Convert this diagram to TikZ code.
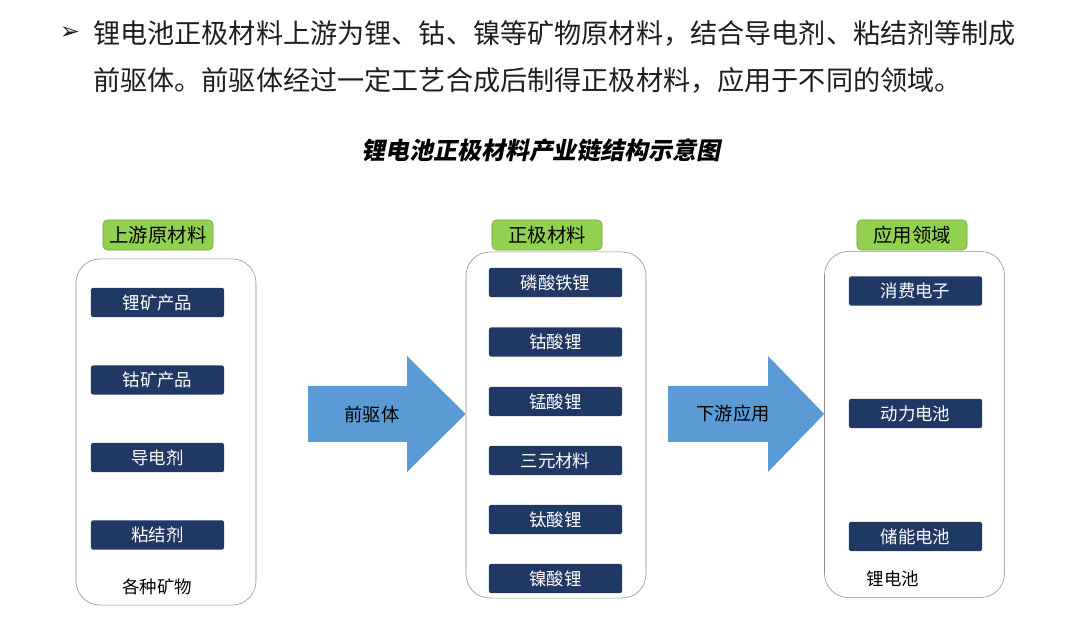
\documentclass[tikz,border=0pt]{standalone}
\usepackage{fontspec}
\setmainfont{Noto Sans CJK SC}
\newfontfamily\symfont{DejaVu Sans}
\newfontfamily\titlefont[FakeSlant=0.2]{Noto Sans CJK SC}
\usepackage{tikz}
\usetikzlibrary{positioning,calc}
\usepackage{xcolor}
\definecolor{itemcolor}{RGB}{31,56,100}
\definecolor{labelcolor}{RGB}{146,208,80}
\definecolor{arrowcolor}{RGB}{91,155,213}
\definecolor{textcolor}{RGB}{30,30,30}

\begin{document}
\begin{tikzpicture}[x=0.025cm, y=-0.025cm,
    intro/.style={anchor=west, inner sep=0, text=textcolor, font=\fontsize{19.3}{20}\selectfont},
    group/.style={rectangle, draw=black!45, rounded corners=0.6cm, minimum width=4.5cm, minimum height=8.65cm, inner sep=0},
    tag/.style={rectangle, draw=labelcolor!80!black, fill=labelcolor, rounded corners=3pt, minimum width=2.75cm, minimum height=0.75cm, inner sep=0, font=\fontsize{13.8}{14}\selectfont},
    item/.style={rectangle, fill=itemcolor, rounded corners=1.5pt, minimum width=3.325cm, minimum height=0.73cm, inner sep=0, text=white, font=\fontsize{12.4}{13}\selectfont},
    note/.style={inner sep=0, font=\fontsize{12.4}{13}\selectfont},
    flow/.style={fill=arrowcolor},
    flowtext/.style={inner sep=0, font=\fontsize{13}{14}\selectfont},
]
    \useasboundingbox (0,0) rectangle (1080,622);

    % Intro text
    \node[inner sep=0, text=textcolor, font=\symfont\fontsize{17}{18}\selectfont] (bullet) at (70,33) {➢};
    \node[intro] (line1) at (93,33) {锂电池正极材料上游为锂、钴、镍等矿物原材料，结合导电剂、粘结剂等制成};
    \node[intro] (line2) at (93,80) {前驱体。前驱体经过一定工艺合成后制得正极材料，应用于不同的领域。};

    % Title
    \node[inner sep=0, font=\titlefont\bfseries\fontsize{17}{18}\selectfont] (title) at (541,150) {锂电池正极材料产业链结构示意图};

    % Upstream raw materials
    \node[tag] (raw_tag) at (158,235) {上游原材料};
    \node[group] (raw) at (166,432) {};
    \node[item] (lithium_ore) at (157.5,302.5) {锂矿产品};
    \node[item] (cobalt_ore) at (157.5,380) {钴矿产品};
    \node[item] (conductor) at (157.5,457.5) {导电剂};
    \node[item] (binder) at (157.5,535) {粘结剂};
    \node[note] (minerals) at (157,587) {各种矿物};

    % Cathode materials
    \node[tag] (cathode_tag) at (547,235) {正极材料};
    \node[group] (cathode) at (556,425) {};
    \node[item] (lfp) at (555.5,282.5) {磷酸铁锂};
    \node[item] (lco) at (555.5,342) {钴酸锂};
    \node[item] (lmo) at (555.5,401.5) {锰酸锂};
    \node[item] (ncm) at (555.5,460.5) {三元材料};
    \node[item] (lto) at (555.5,519.5) {钛酸锂};
    \node[item] (lno) at (555.5,578.5) {镍酸锂};

    % Application fields
    \node[tag] (app_tag) at (912,235) {应用领域};
    \node[group] (app) at (914.5,424.5) {};
    \node[item] (consumer) at (915.5,291) {消费电子};
    \node[item] (power) at (915.5,413.5) {动力电池};
    \node[item] (storage) at (915.5,536.5) {储能电池};
    \node[note] (battery) at (893,579) {锂电池};

    % Block arrows
    \fill[flow] (308,386) -- (407,386) -- (407,356) -- (cathode.west |- 0,414) -- (407,472) -- (407,442) -- (308,442) -- cycle;
    \node[flowtext] (precursor) at (372,414) {前驱体};
    \fill[flow] (668,386) -- (768,386) -- (768,356) -- (app.west |- 0,414) -- (768,472) -- (768,442) -- (668,442) -- cycle;
    \node[flowtext] (downstream) at (733,414) {下游应用};
\end{tikzpicture}
\end{document}
